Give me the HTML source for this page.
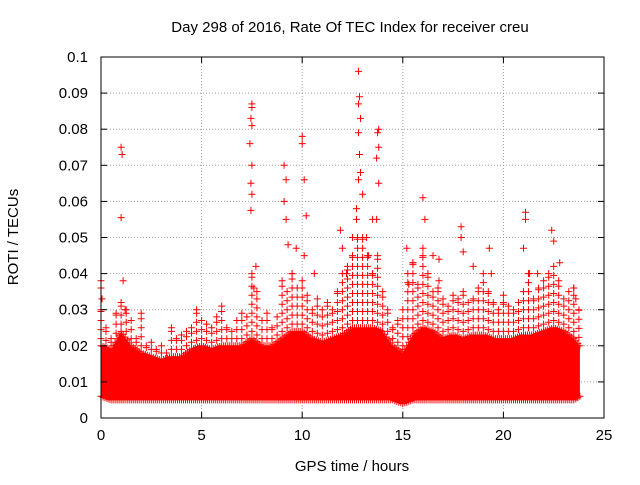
<!DOCTYPE html>
<html><head><meta charset="utf-8"><style>
body{margin:0;background:#fff}
svg{font-family:"Liberation Sans",sans-serif;font-size:15px}
</style></head><body>
<svg id="c" width="640" height="480">
<rect width="640" height="480" fill="#fff"/>
<g id="grid"></g>
<g id="band"></g>
<g id="pts"></g>
<rect x="101" y="57" width="503" height="361" fill="none" stroke="#000"/>
<g id="ticks"></g>
<text x="350" y="32" text-anchor="middle">Day 298 of 2016, Rate Of TEC Index for receiver creu</text>
<text x="352" y="471" text-anchor="middle">GPS time / hours</text>
<text transform="translate(18,237) rotate(-90)" text-anchor="middle">ROTI / TECUs</text>
</svg>
<script>
const xTicks=[0,5,10,15,20,25];
const yTicks=[0,0.01,0.02,0.03,0.04,0.05,0.06,0.07,0.08,0.09,0.1];
const envTimes=[0,0.5,1,1.5,2,2.5,3,3.5,4,4.5,5,5.5,6,6.5,7,7.5,8,8.5,9,9.5,10,10.5,11,11.5,12,12.5,13,13.5,14,14.5,15,15.5,16,16.5,17,17.5,18,18.5,19,19.5,20,20.5,21,21.5,22,22.5,23,23.5,23.8];
const envLow=[0.006,0.005,0.005,0.005,0.005,0.005,0.005,0.005,0.005,0.005,0.005,0.005,0.005,0.005,0.005,0.005,0.005,0.005,0.005,0.005,0.005,0.005,0.005,0.005,0.005,0.005,0.005,0.005,0.005,0.005,0.004,0.005,0.005,0.005,0.005,0.005,0.005,0.005,0.005,0.005,0.005,0.005,0.005,0.005,0.005,0.005,0.005,0.005,0.006];
const envHigh=[0.02,0.019,0.024,0.02,0.018,0.017,0.016,0.017,0.017,0.019,0.02,0.019,0.02,0.02,0.02,0.022,0.02,0.02,0.022,0.024,0.024,0.022,0.021,0.022,0.023,0.025,0.025,0.025,0.024,0.02,0.018,0.023,0.025,0.024,0.022,0.023,0.022,0.023,0.023,0.022,0.022,0.022,0.023,0.023,0.024,0.025,0.024,0.022,0.02];
const spikeValues=[0.03,0.025,0.022,0.029,0.032,0.03,0.027,0.022,0.029,0.02,0.021,0.019,0.02,0.018,0.025,0.022,0.023,0.024,0.025,0.03,0.027,0.026,0.025,0.028,0.031,0.025,0.024,0.027,0.029,0.028,0.04,0.035,0.027,0.029,0.025,0.028,0.038,0.035,0.04,0.036,0.038,0.034,0.03,0.033,0.03,0.032,0.03,0.035,0.04,0.042,0.045,0.05,0.05,0.045,0.04,0.045,0.035,0.03,0.025,0.027,0.03,0.04,0.043,0.037,0.045,0.04,0.035,0.036,0.033,0.031,0.034,0.033,0.035,0.032,0.033,0.036,0.04,0.035,0.032,0.03,0.032,0.031,0.03,0.032,0.035,0.04,0.033,0.036,0.038,0.04,0.042,0.038,0.033,0.035,0.036,0.03];
const outTimes=[0,0,0.05,1,1.05,1,1.1,1.2,7.5,7.5,7.45,7.5,7.4,7.5,7.45,7.5,7.45,7.7,7.6,9.1,9.2,9.1,9.2,9.3,9.5,9.7,10,10,10.1,10.2,10.1,10.6,11.9,12,12.2,12.5,12.7,12.8,12.85,12.8,12.9,12.8,12.85,12.9,12.8,13,12.7,13.2,13.3,13.5,13.8,13.75,13.8,13.7,13.8,13.7,13.5,15.2,15.5,15.3,16,16.1,16,16.5,16.8,16.8,17.9,17.9,18,18.5,19.3,19.4,20,21.1,21.1,21,21.3,21.7,22.4,22.5,22.8,23.5,23.6];
const outValues=[0.038,0.036,0.033,0.075,0.073,0.0555,0.038,0.03,0.087,0.086,0.083,0.081,0.076,0.07,0.065,0.062,0.0575,0.042,0.036,0.07,0.066,0.06,0.055,0.048,0.04,0.047,0.078,0.076,0.066,0.056,0.045,0.04,0.052,0.047,0.04,0.05,0.058,0.096,0.089,0.087,0.083,0.079,0.073,0.068,0.066,0.062,0.055,0.05,0.045,0.055,0.08,0.079,0.075,0.072,0.065,0.055,0.04,0.047,0.043,0.037,0.061,0.055,0.047,0.045,0.044,0.038,0.053,0.05,0.046,0.042,0.047,0.04,0.034,0.057,0.055,0.047,0.04,0.04,0.052,0.049,0.043,0.036,0.033];
const X=t=>101+t*503/25, Y=v=>418-v*3610;
const NS="http://www.w3.org/2000/svg";
function mk(tag,attrs,parent){const e=document.createElementNS(NS,tag);for(const k in attrs)e.setAttribute(k,attrs[k]);parent.appendChild(e);return e;}
const gridG=document.getElementById('grid'),ticksG=document.getElementById('ticks');
xTicks.forEach(t=>{
 if(t>0&&t<25){const g=mk('line',{x1:X(t),x2:X(t),y1:57,y2:418,stroke:'#a0a0a0','stroke-dasharray':'1,2'},gridG);
 
 }
 const l=mk('text',{x:X(t),y:440,'text-anchor':'middle'},ticksG);l.textContent=t;
 
 
 mk('line',{x1:X(t),x2:X(t),y1:418,y2:412,stroke:'#000'},ticksG);
 mk('line',{x1:X(t),x2:X(t),y1:57,y2:63,stroke:'#000'},ticksG);
});
yTicks.forEach(v=>{
 if(v>0&&v<0.1){const g=mk('line',{x1:101,x2:604,y1:Y(v),y2:Y(v),stroke:'#a0a0a0','stroke-dasharray':'1,2'},gridG);
 
 }
 const l=mk('text',{x:88,y:Y(v)+5,'text-anchor':'end'},ticksG);l.textContent=v;
 
 
 mk('line',{x1:101,x2:107,y1:Y(v),y2:Y(v),stroke:'#000'},ticksG);
 mk('line',{x1:604,x2:598,y1:Y(v),y2:Y(v),stroke:'#000'},ticksG);
});
function plus(x,y){return `M${(x-3.5).toFixed(1)} ${y.toFixed(1)}h7M${x.toFixed(1)} ${(y-3.5).toFixed(1)}v7`;}
function interp(arr,t){for(let i=0;i<envTimes.length-1;i++){if(t<=envTimes[i+1]){const f=(t-envTimes[i])/(envTimes[i+1]-envTimes[i]);return arr[i]+f*(arr[i+1]-arr[i]);}}return arr[arr.length-1];}
const bandG=document.getElementById('band');
const tEnd=envTimes[envTimes.length-1];
let topPts='',botPts='';
for(let t=0;t<=tEnd+1e-9;t+=0.1){topPts+=`${X(t).toFixed(1)},${Y(interp(envHigh,t)).toFixed(1)} `;}
for(let t=tEnd;t>=-1e-9;t-=0.1){botPts+=`${X(t).toFixed(1)},${Y(interp(envLow,t)).toFixed(1)} `;}
const poly=mk('polygon',{points:topPts+botPts,fill:'#ff0000'},bandG);


let dPath='';
for(let t=0;t<=tEnd+1e-9;t+=0.1){
 dPath+=plus(X(t),Y(interp(envHigh,t)));
 dPath+=plus(X(t),Y(interp(envLow,t)));
}
spikeValues.forEach((s,i)=>{
 const t=i*0.25; if(t>tEnd)return;
 const hi=interp(envHigh,t);
 for(let v=hi+0.002;v<=s;v+=0.0025)dPath+=plus(X(t),Y(v));
 if(s>hi)dPath+=plus(X(t),Y(s));
});
const bp=mk('path',{d:dPath,stroke:'#ff0000','stroke-width':1,fill:'none'},bandG);


let dOut='';
outTimes.forEach((t,i)=>{dOut+=plus(X(t),Y(outValues[i]));});
const op=mk('path',{d:dOut,stroke:'#ff0000','stroke-width':1,fill:'none'},document.getElementById('pts'));


</script>
</body></html>
